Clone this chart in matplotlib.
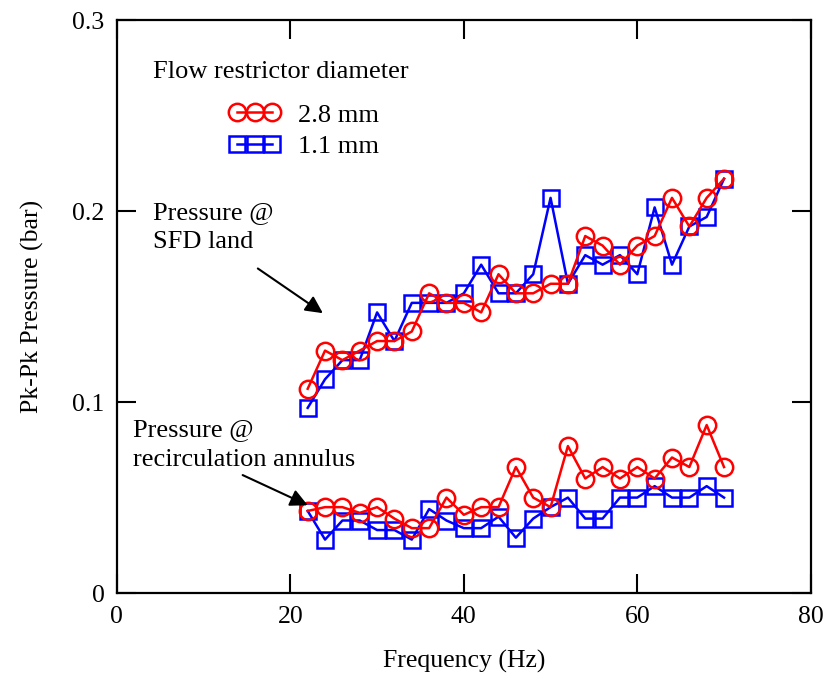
import matplotlib

matplotlib.use('Agg')
import matplotlib.pyplot as plt

# frequency (Hz)
freq = [22, 24, 26, 28, 30, 32, 34, 36, 38, 40, 42, 44, 46, 48,
        50, 52, 54, 56, 58, 60, 62, 64, 66, 68, 70]

# pressure @ SFD land (bar)
land_28 = [0.107, 0.127, 0.122, 0.127, 0.132, 0.132, 0.137, 0.157, 0.152, 0.152, 0.147, 0.167, 0.157,
           0.157, 0.162, 0.162, 0.187, 0.182, 0.172, 0.182, 0.187, 0.207, 0.192, 0.207, 0.217]
land_11 = [0.097, 0.112, 0.122, 0.122, 0.147, 0.132, 0.152, 0.152, 0.152, 0.157, 0.172, 0.157, 0.157,
           0.167, 0.207, 0.162, 0.177, 0.172, 0.177, 0.167, 0.202, 0.172, 0.192, 0.197, 0.217]

# pressure @ recirculation annulus (bar)
annulus_28 = [0.043, 0.045, 0.045, 0.042, 0.045, 0.039, 0.034, 0.034, 0.050, 0.041, 0.045, 0.045, 0.066,
              0.050, 0.045, 0.077, 0.060, 0.066, 0.060, 0.066, 0.060, 0.071, 0.066, 0.088, 0.066]
annulus_11 = [0.043, 0.028, 0.038, 0.038, 0.033, 0.033, 0.028, 0.044, 0.038, 0.034, 0.034, 0.040, 0.029,
              0.039, 0.045, 0.050, 0.039, 0.039, 0.050, 0.050, 0.056, 0.050, 0.050, 0.056, 0.050]

labels = ['2.8 mm', '1.1 mm']

plt.rcParams['font.family'] = ['Liberation Serif', 'DejaVu Serif']
plt.rcParams['font.size'] = 18

fig = plt.figure(figsize=(8.29, 6.77), dpi=100)
ax = fig.add_axes([0.141, 0.124, 0.837, 0.846])

red = dict(color='#ff0000', marker='o', markersize=12.5, fillstyle='none', lw=1.8, mew=1.8)
blue = dict(color='#0000ff', marker='s', markersize=11, fillstyle='none', lw=1.8, mew=1.8)

ax.plot(freq, land_11, **blue)
h2, = ax.plot(freq, land_28, **red)
h1, = ax.plot(freq, annulus_11, **blue)
ax.plot(freq, annulus_28, **red)
h2.set_label(labels[0])
h1.set_label(labels[1])

ax.set_xlim(0, 80)
ax.set_ylim(0, 0.3)
ax.set_xticks([0, 20, 40, 60, 80])
ax.set_yticks([0, 0.1, 0.2, 0.3])
ax.set_yticklabels(['0', '0.1', '0.2', '0.3'])
ax.tick_params(direction='in', length=14, width=1.5, top=True, right=True, labelsize=18.5, pad=9)
for s in ax.spines.values():
    s.set_linewidth(1.6)

ax.set_xlabel('Frequency (Hz)', fontsize=18.5, labelpad=16)
ax.set_ylabel('Pk-Pk Pressure (bar)', fontsize=18.5, labelpad=20)

ax.text(4.15, 0.2728, 'Flow restrictor diameter', fontsize=19, va='center', ha='left')
ax.legend(handles=[h2, h1], loc='upper left', bbox_to_anchor=(0.128, 0.897), frameon=False,
          numpoints=3, markerscale=1.0, handlelength=1.9, handletextpad=0.7,
          labelspacing=0.3, fontsize=19)

ax.text(4.15, 0.1915, 'Pressure @\nSFD land', fontsize=19, va='center', ha='left', linespacing=1.45)
ax.text(1.84, 0.0775, 'Pressure @\nrecirculation annulus', fontsize=19, va='center', ha='left',
        linespacing=1.45)

arrow = dict(arrowstyle='-|>', mutation_scale=26, lw=1.5, color='k', shrinkA=0, shrinkB=0)
ax.annotate('', xy=(23.75, 0.1466), xytext=(16.25, 0.170), arrowprops=arrow)
ax.annotate('', xy=(22.0, 0.046), xytext=(14.5, 0.0618), arrowprops=arrow)

fig.savefig('out.png', dpi=100)
